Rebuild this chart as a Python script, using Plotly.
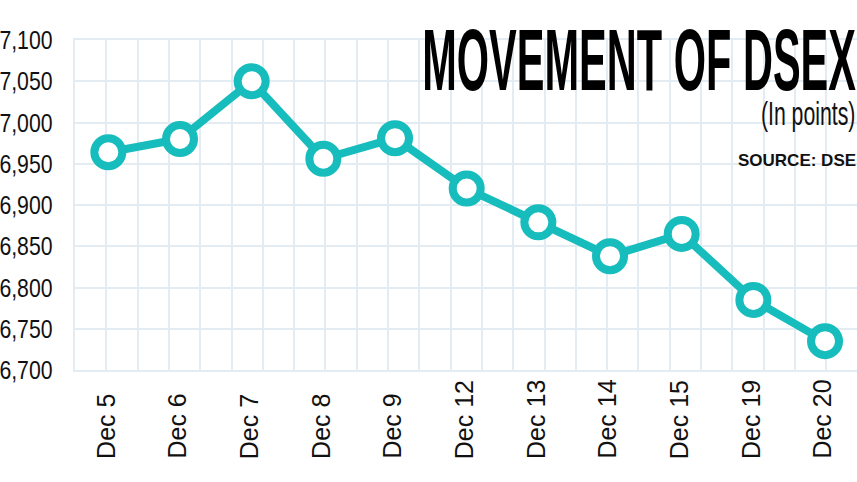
import plotly.graph_objects as go

dates = ["Dec 5", "Dec 6", "Dec 7", "Dec 8", "Dec 9", "Dec 12", "Dec 13",
         "Dec 14", "Dec 15", "Dec 19", "Dec 20"]
dsex = [6964, 6980, 7050, 6956, 6981, 6920, 6879, 6838, 6865, 6785, 6735]
y_ticks = [6700, 6750, 6800, 6850, 6900, 6950, 7000, 7050, 7100]
y_tick_labels = ["6,700", "6,750", "6,800", "6,850", "6,900", "6,950",
                 "7,000", "7,050", "7,100"]
grid_span = [0, 782]  # helper axis span for the square background grid

title_text = "MOVEMENT OF DSEX"
unit_text = "(In points)"
source_text = "SOURCE: DSE"

TEAL = "#17bcbc"
GRID = "#e3ebf3"
SANS = "Liberation Sans, Arial, sans-serif"

fig = go.Figure()
# invisible helper trace so the background-grid axis gets drawn
fig.add_trace(go.Scatter(
    x=grid_span, y=[None, None], xaxis="x2", mode="lines",
    hoverinfo="skip", showlegend=False,
))
fig.add_trace(go.Scatter(
    x=dates, y=dsex, mode="lines+markers",
    line=dict(color=TEAL, width=8),
    marker=dict(symbol="circle", size=28, color="white",
                line=dict(color=TEAL, width=8)),
    hoverinfo="x+y", showlegend=False, cliponaxis=False,
))

# category labels (bottom-aligned, rotated)
for d in dates:
    fig.add_annotation(
        x=d, xref="x", y=-0.276, yref="paper", yanchor="bottom",
        xanchor="center", text=d, textangle=-90, showarrow=False,
        xshift=-3, font=dict(family=SANS, size=25, color="#111111"),
    )

# value-axis labels, placed on the y scale
for v, lab in zip(y_ticks, y_tick_labels):
    fig.add_annotation(
        x=0, xref="paper", xanchor="right", xshift=-21, y=v, yref="y",
        yanchor="middle", text=lab, showarrow=False, borderpad=0,
        font=dict(family=SANS, size=25, color="#111111"),
    )

fig.add_annotation(x=1, xref="paper", xanchor="right", y=0.942, yref="paper",
                   yanchor="middle", text="<b>" + title_text + "</b>", showarrow=False,
                   borderpad=0, font=dict(family=SANS, size=45, color="#000000"))
fig.add_annotation(x=1, xref="paper", xanchor="right", y=0.778, yref="paper",
                   yanchor="middle", text=unit_text, showarrow=False,
                   borderpad=0, font=dict(family=SANS, size=28, color="#111111"))
fig.add_annotation(x=1, xref="paper", xanchor="right", y=0.636, yref="paper",
                   yanchor="middle", text="<b>" + source_text + "</b>", showarrow=False,
                   borderpad=0, font=dict(family=SANS, size=17, color="#111111"))

fig.update_layout(
    width=857, height=482,
    margin=dict(l=75, r=0, t=40, b=112, autoexpand=False),
    paper_bgcolor="white", plot_bgcolor="white",
    xaxis=dict(type="category", range=[-0.465, 10.446], showgrid=False,
               showticklabels=False, zeroline=False, showline=True,
               linecolor=GRID, linewidth=2, mirror=True, fixedrange=True,
               automargin=False),
    xaxis2=dict(overlaying="x", range=grid_span, tick0=0, dtick=31.3,
                showgrid=True, gridcolor=GRID, gridwidth=1.5,
                showticklabels=False, zeroline=False, ticks="", fixedrange=True,
                automargin=False),
    yaxis=dict(range=[6700, 7100], tickvals=y_ticks, ticktext=y_tick_labels,
               showticklabels=False,
               showgrid=True, gridcolor=GRID, gridwidth=1.5, zeroline=False,
               showline=True, linecolor=GRID, linewidth=2, mirror=True,
               ticks="", automargin=False, fixedrange=True),
)

post = """
document.body.style.margin='0';
var gd=document.getElementById('{plot_id}');
var ylabs=__YLABS__;
function fixText(){
  gd.querySelectorAll('text.annotation-text').forEach(function(t){
    var s=t.textContent;
    var tr=null;
    if(s==='MOVEMENT OF DSEX'){ tr='scale(0.923,1.955)'; }
    else if(s==='(In points)'){ tr='scale(0.76,1.18)'; }
    else if(ylabs.indexOf(s)>=0){ tr='scale(0.85,1.05)'; }
    if(tr){
      t.style.transformBox='fill-box';t.style.transformOrigin='100% 50%';
      t.style.transform=tr;
    }
  });
}
fixText();
gd.on('plotly_afterplot', fixText);
""".replace("__YLABS__", "[" + ",".join("'" + s + "'" for s in y_tick_labels) + "]")

fig.write_html("out.html", post_script=post, config={"displayModeBar": False})
